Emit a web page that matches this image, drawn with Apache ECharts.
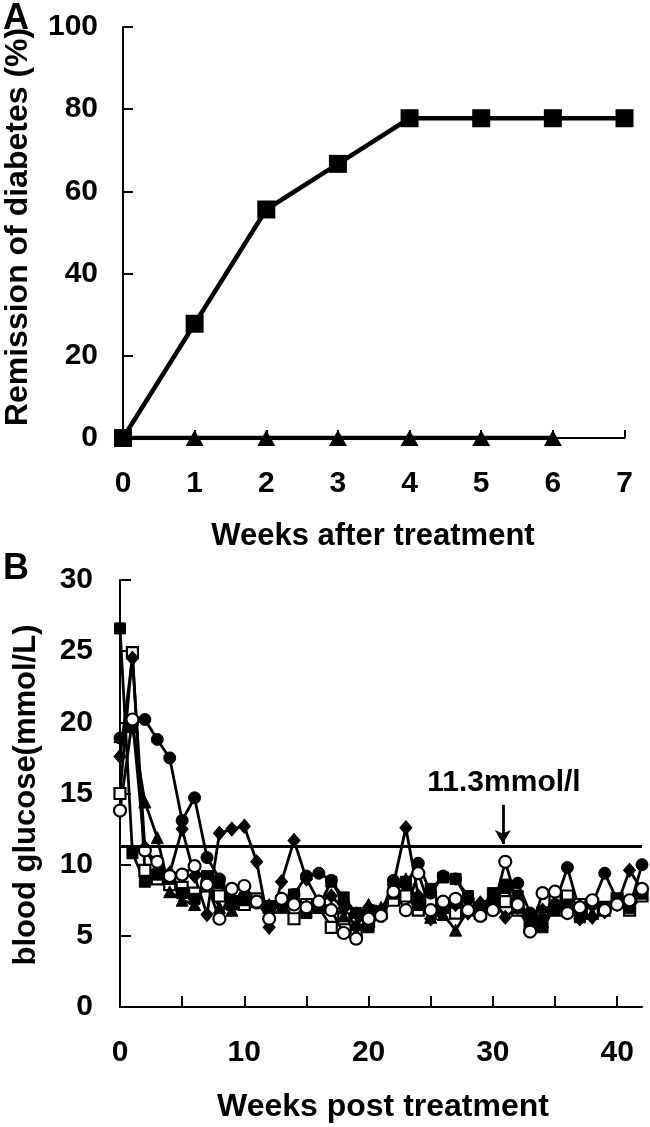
<!DOCTYPE html>
<html>
<head>
<meta charset="utf-8">
<script src="https://cdn.jsdelivr.net/npm/echarts@6/dist/echarts.min.js"></script>
<style>
html,body{margin:0;padding:0;background:#fff;}
#chart{width:650px;height:1127px;}
</style>
</head>
<body>
<div id="chart"></div>
<script>
// ---------- Panel A data ----------
const weeksA = [0, 1, 2, 3, 4, 5, 6, 7];
const remissionTreated = [0, 27.8, 55.6, 66.7, 77.8, 77.8, 77.8, 77.8];
const remissionControl = [0, 0, 0, 0, 0, 0, 0];
const yTicksA = [0, 20, 40, 60, 80, 100];

// ---------- Panel B data (weeks 0..42) ----------
const weeksB = Array.from({length: 43}, (_, i) => i);
const glucoseFilledSquare = [26.6,10.8,8.8,9.3,9.0,8.0,7.6,9.2,8.7,7.2,7.5,7.4,7.1,7.3,7.9,6.6,7.1,8.8,7.7,6.6,5.6,6.6,8.5,8.8,7.5,8.3,9.1,9.0,7.8,6.8,8.0,8.6,7.8,6.0,5.6,7.0,7.2,6.3,7.3,6.9,7.6,7.0,8.0];
const glucoseOpenSquare   = [15.0,24.9,9.6,9.0,8.6,8.4,8.0,8.5,7.8,7.4,7.2,7.6,7.0,7.4,6.2,7.2,7.0,5.6,6.2,5.4,6.0,6.6,7.5,7.8,6.8,7.4,7.0,6.6,7.2,6.6,7.0,7.4,6.8,5.6,6.6,7.5,7.8,7.2,6.6,7.0,7.6,6.8,7.8];
const glucoseTriangle     = [19.0,19.7,14.4,11.9,8.1,7.5,7.2,8.8,7.0,6.8,7.6,7.4,7.2,7.0,7.5,7.1,7.3,7.0,6.4,5.8,7.2,7.0,8.0,9.0,7.2,6.3,6.5,5.4,6.8,7.2,7.6,8.4,7.0,6.4,6.0,6.8,7.0,7.2,6.6,6.8,7.4,7.0,8.0];
const glucoseDiamond      = [17.6,24.5,11.2,9.6,9.4,12.5,9.2,6.5,12.2,12.5,12.7,10.2,5.6,8.8,11.7,9.0,7.4,7.8,6.9,5.6,7.0,6.6,8.6,12.6,7.8,6.2,6.8,7.2,6.6,7.3,7.6,6.3,7.0,6.5,6.8,7.2,7.0,6.2,6.3,6.7,7.2,9.6,8.2];
const glucoseFilledCircle = [18.9,19.9,20.2,18.8,17.5,13.1,14.7,10.5,9.0,7.5,7.8,7.3,7.0,7.2,7.9,9.2,9.4,8.9,7.3,6.6,6.8,6.5,8.9,8.6,10.1,8.0,9.2,9.0,7.6,7.0,7.4,8.4,8.7,6.6,6.2,7.2,9.8,6.7,7.2,9.4,7.5,7.0,10.0];
const glucoseOpenCircle   = [13.8,20.2,11.0,10.2,9.2,9.3,9.9,8.6,6.2,8.3,8.5,7.4,6.2,7.6,7.2,7.0,7.4,6.8,5.2,4.8,6.2,6.4,8.1,6.8,9.4,6.8,7.4,7.6,6.8,6.4,6.8,10.2,7.2,5.3,8.0,8.1,6.6,7.0,7.5,6.8,7.2,7.5,8.3];
const thresholdB = 11.3;
const thresholdText = '11.3mmol/l';
const arrowWeek = 30.8;
const arrowTop = 14.2;
const arrowTip = 11.45;
const yTicksB = [0, 5, 10, 15, 20, 25, 30];
const xTickWeeksB = [5, 10, 15, 20, 25, 30, 35, 40];
const xLabelWeeksB = [0, 10, 20, 30, 40];

const FONT = "'Liberation Sans', Arial, sans-serif";
const BLACK = '#000';

const chart = echarts.init(document.getElementById('chart'), null, {renderer: 'canvas'});

const pairs = (xs, ys) => ys.map((v, i) => [xs[i], v]);

function seriesB(name, data, symbol, size, filled) {
  return {
    name, type: 'line', xAxisIndex: 1, yAxisIndex: 1,
    data: pairs(weeksB, data),
    symbol, symbolSize: size, showAllSymbol: true,
    lineStyle: {color: BLACK, width: 2.8},
    itemStyle: filled ? {color: BLACK, borderColor: BLACK, borderWidth: 1}
                      : {color: '#fff', borderColor: BLACK, borderWidth: 2.2},
    emphasis: {disabled: true},
    animation: false, z: 3
  };
}

const diamondPath = 'path://M0,-10L8,0L0,10L-8,0Z';

const option = {
  animation: false,
  backgroundColor: '#fff',
  textStyle: {fontFamily: FONT},
  grid: [
    {left: 123, right: 25.5, top: 27, height: 411},
    {left: 120, right: 8, top: 580, height: 427}
  ],
  xAxis: [
    {
      gridIndex: 0, type: 'value', min: 0, max: 7, interval: 1,
      axisLine: {lineStyle: {color: BLACK, width: 2}},
      axisTick: {inside: true, length: 8, lineStyle: {color: BLACK, width: 2}},
      axisLabel: {color: BLACK, fontSize: 30, fontWeight: 'bold', fontFamily: FONT, margin: 31},
      splitLine: {show: false}
    },
    {
      gridIndex: 1, type: 'value', min: 0, max: 42,
      axisLine: {lineStyle: {color: BLACK, width: 2}},
      axisTick: {inside: true, length: 11, customValues: xTickWeeksB, lineStyle: {color: BLACK, width: 2}},
      axisLabel: {color: BLACK, fontSize: 30, fontWeight: 'bold', fontFamily: FONT, margin: 31, customValues: xLabelWeeksB},
      splitLine: {show: false}
    }
  ],
  yAxis: [
    {
      gridIndex: 0, type: 'value', min: 0, max: 100, interval: 20,
      axisLine: {show: true, lineStyle: {color: BLACK, width: 2}},
      axisTick: {show: true, inside: true, length: 10, lineStyle: {color: BLACK, width: 2}},
      axisLabel: {color: BLACK, fontSize: 30, fontWeight: 'bold', fontFamily: FONT, margin: 25},
      splitLine: {show: false}
    },
    {
      gridIndex: 1, type: 'value', min: 0, max: 30, interval: 5,
      axisLine: {show: true, lineStyle: {color: BLACK, width: 2}},
      axisTick: {show: true, inside: true, length: 11, lineStyle: {color: BLACK, width: 2}},
      axisLabel: {color: BLACK, fontSize: 30, fontWeight: 'bold', fontFamily: FONT, margin: 27},
      splitLine: {show: false}
    }
  ],
  series: [
    {
      name: 'control', type: 'line', xAxisIndex: 0, yAxisIndex: 0,
      data: pairs(weeksA, remissionControl),
      symbol: 'triangle', symbolSize: [18, 16],
      lineStyle: {color: BLACK, width: 4.5},
      itemStyle: {color: BLACK},
      emphasis: {disabled: true}, z: 3
    },
    {
      name: 'treated', type: 'line', xAxisIndex: 0, yAxisIndex: 0,
      data: pairs(weeksA, remissionTreated),
      symbol: 'rect', symbolSize: 18,
      lineStyle: {color: BLACK, width: 4.5},
      itemStyle: {color: BLACK},
      emphasis: {disabled: true}, z: 4
    },
    seriesB('open square', glucoseOpenSquare, 'rect', 11, false),
    seriesB('triangle', glucoseTriangle, 'triangle', 12, true),
    seriesB('diamond', glucoseDiamond, diamondPath, [12, 14], true),
    seriesB('filled circle', glucoseFilledCircle, 'circle', 12, true),
    seriesB('filled square', glucoseFilledSquare, 'rect', 11, true),
    Object.assign(seriesB('open circle', glucoseOpenCircle, 'circle', 12, false), {
      markLine: {
        silent: true, animation: false,
        data: [
          [{coord: [0, thresholdB], symbol: 'none'}, {coord: [42, thresholdB], symbol: 'none'}],
          [{coord: [arrowWeek, arrowTop], symbol: 'none'}, {coord: [arrowWeek, arrowTip], symbol: 'arrow', symbolSize: [12, 14]}]
        ],
        lineStyle: {color: BLACK, width: 2.8, type: 'solid'},
        label: {show: false}
      }
    })
  ],
  graphic: [
    {type: 'text', left: 3, top: 1, style: {text: 'A', font: `bold 36px ${FONT}`, fill: BLACK}},
    {type: 'text', left: 3, top: 551, style: {text: 'B', font: `bold 36px ${FONT}`, fill: BLACK}},
    {type: 'text', x: 18, y: 227, rotation: Math.PI / 2,
      style: {text: 'Remission of diabetes (%)', font: `bold 32px ${FONT}`, fill: BLACK, align: 'center', verticalAlign: 'middle'}},
    {type: 'text', x: 373, y: 536,
      style: {text: 'Weeks after treatment', font: `bold 31px ${FONT}`, fill: BLACK, align: 'center', verticalAlign: 'middle'}},
    {type: 'text', x: 26, y: 795, rotation: Math.PI / 2,
      style: {text: 'blood glucose(mmol/L)', font: `bold 31px ${FONT}`, fill: BLACK, align: 'center', verticalAlign: 'middle'}},
    {type: 'text', x: 383, y: 1107,
      style: {text: 'Weeks post treatment', font: `bold 32px ${FONT}`, fill: BLACK, align: 'center', verticalAlign: 'middle'}},
    {type: 'text', x: 504, y: 783,
      style: {text: thresholdText, font: `bold 30px ${FONT}`, fill: BLACK, align: 'center', verticalAlign: 'middle'}}
  ]
};

chart.setOption(option);
</script>
</body>
</html>
